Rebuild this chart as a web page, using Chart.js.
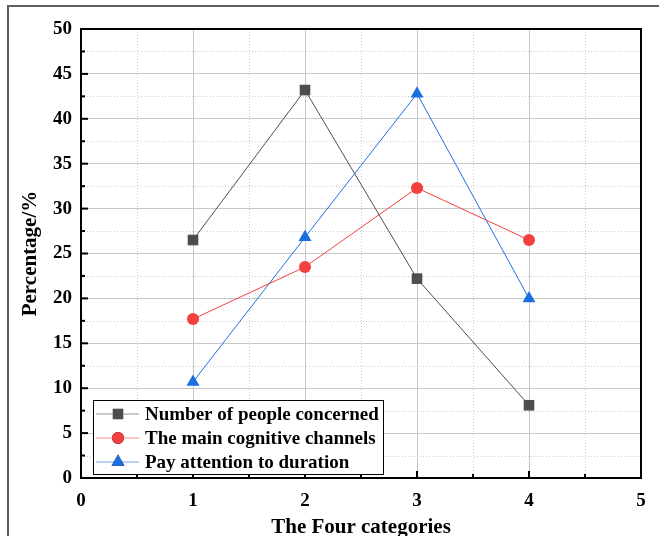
<!DOCTYPE html>
<html>
<head>
<meta charset="utf-8">
<script src="https://cdn.jsdelivr.net/npm/chart.js@4.4.1/dist/chart.umd.min.js"></script>
<style>
  html, body { margin: 0; padding: 0; background: #fff; }
  #wrap { position: relative; width: 659px; height: 536px; }
  #frame { position: absolute; left: 7px; top: 5px; right: -4px; bottom: -4px; border-top: 2px solid #5e5e5e; border-left: 2px solid #5e5e5e; pointer-events: none; }
  canvas { position: absolute; left: 0; top: 0; }
</style>
</head>
<body>
<div id="wrap">
  <canvas id="chart" width="659" height="536"></canvas>
  <div id="frame"></div>
</div>
<script>
// --- data ---
const categories = [1, 2, 3, 4];
const peopleConcerned = [26.5, 43.2, 22.2, 8.1];
const cognitiveChannels = [17.7, 23.5, 32.3, 26.5];
const attentionDuration = [10.7, 26.8, 42.8, 20.0];
const seriesNames = ['Number of people concerned', 'The main cognitive channels', 'Pay attention to duration'];
const xTickValues = [0, 1, 2, 3, 4, 5];
const yTickValues = [0, 5, 10, 15, 20, 25, 30, 35, 40, 45, 50];
const xMinorValues = [0.5, 1.5, 2.5, 3.5, 4.5];
const yMinorValues = [2.5, 7.5, 12.5, 17.5, 22.5, 27.5, 32.5, 37.5, 42.5, 47.5];

const serif = "'Liberation Serif', 'Times New Roman', serif";
const colors = { black: '#4d4d4d', red: '#f2403f', blue: '#1c6fe0' };

const toPoints = vals => categories.map((c, i) => ({ x: c, y: vals[i] }));

// minor dotted grid, inward ticks, frame and the boxed legend
const originStyle = {
    id: 'originStyle',
    beforeDatasetsDraw(chart) {
        const { ctx, chartArea: a, scales: { x, y } } = chart;
        ctx.save();
        ctx.strokeStyle = '#cdcdcd';
        ctx.lineWidth = 1;
        ctx.setLineDash([1, 2]);
        xMinorValues.forEach(v => {
            const px = Math.round(x.getPixelForValue(v)) + 0.5;
            ctx.beginPath(); ctx.moveTo(px, a.top); ctx.lineTo(px, a.bottom); ctx.stroke();
        });
        yMinorValues.forEach(v => {
            const py = Math.round(y.getPixelForValue(v)) + 0.5;
            ctx.beginPath(); ctx.moveTo(a.left, py); ctx.lineTo(a.right, py); ctx.stroke();
        });
        ctx.restore();
    },
    afterDraw(chart) {
        const { ctx, chartArea: a, scales: { x, y } } = chart;
        ctx.save();
        // inward ticks
        ctx.strokeStyle = '#000';
        ctx.lineWidth = 2;
        xTickValues.concat(xMinorValues).forEach(v => {
            const px = x.getPixelForValue(v);
            const len = Number.isInteger(v) ? 7 : 4;
            ctx.beginPath(); ctx.moveTo(px, a.bottom); ctx.lineTo(px, a.bottom - len); ctx.stroke();
        });
        yTickValues.concat(yMinorValues).forEach(v => {
            const py = y.getPixelForValue(v);
            const len = v % 5 === 0 ? 7 : 4;
            ctx.beginPath(); ctx.moveTo(a.left, py); ctx.lineTo(a.left + len, py); ctx.stroke();
        });
        // frame
        ctx.strokeStyle = '#000';
        ctx.lineWidth = 2;
        ctx.strokeRect(a.left, a.top, a.right - a.left, a.bottom - a.top);

        // legend
        const box = { left: 93, top: 400, width: 290, height: 74 };
        ctx.fillStyle = '#fff';
        ctx.fillRect(box.left, box.top, box.width, box.height);
        ctx.lineWidth = 1;
        ctx.strokeStyle = '#000';
        ctx.strokeRect(box.left + 0.5, box.top + 0.5, box.width, box.height);
        ctx.font = 'bold 19px ' + serif;
        ctx.textBaseline = 'middle';
        chart.data.datasets.forEach((ds, i) => {
            const rowY = box.top + 14 + i * 24;
            ctx.strokeStyle = ds.borderColor;
            ctx.globalAlpha = 0.6;
            ctx.lineWidth = 1;
            ctx.beginPath(); ctx.moveTo(box.left + 3, rowY); ctx.lineTo(box.left + 46, rowY); ctx.stroke();
            ctx.globalAlpha = 1;
            Chart.helpers.drawPoint(ctx, {
                pointStyle: ds.pointStyle, radius: ds.pointRadius, borderWidth: 0, rotation: 0
            }, box.left + 25, rowY);
            ctx.fillStyle = ds.pointBackgroundColor;
            ctx.fill();
            ctx.fillStyle = '#000';
            ctx.fillText(ds.label, box.left + 52, rowY + 1);
        });
        ctx.restore();
    }
};

new Chart(document.getElementById('chart'), {
    type: 'line',
    data: {
        datasets: [
            {
                label: seriesNames[0], data: toPoints(peopleConcerned),
                borderColor: colors.black, backgroundColor: colors.black, pointBackgroundColor: colors.black,
                pointStyle: 'rect', pointRadius: 7.5, pointBorderWidth: 0, borderWidth: 1
            },
            {
                label: seriesNames[1], data: toPoints(cognitiveChannels),
                borderColor: colors.red, backgroundColor: colors.red, pointBackgroundColor: colors.red,
                pointStyle: 'circle', pointRadius: 6, pointBorderWidth: 0, borderWidth: 1
            },
            {
                label: seriesNames[2], data: toPoints(attentionDuration),
                borderColor: colors.blue, backgroundColor: colors.blue, pointBackgroundColor: colors.blue,
                pointStyle: 'triangle', pointRadius: 7.5, pointBorderWidth: 0, borderWidth: 1
            }
        ]
    },
    options: {
        responsive: false,
        animation: false,
        layout: { padding: { top: 29, right: 18, left: 0, bottom: 0 } },
        plugins: { legend: { display: false }, tooltip: { enabled: false } },
        scales: {
            x: {
                type: 'linear', min: 0, max: 5,
                afterBuildTicks: s => { s.ticks = xTickValues.map(v => ({ value: v })); },
                afterFit: s => { s.height = 58; },
                grid: { color: '#c8c8c8', lineWidth: 1, drawTicks: false },
                border: { display: false },
                ticks: { color: '#000', padding: 12, font: { family: serif, size: 19, weight: 'bold' } },
                title: { display: true, text: 'The Four categories', color: '#000', padding: { top: 0, bottom: -4 },
                         font: { family: serif, size: 21, weight: 'bold' } }
            },
            y: {
                type: 'linear', min: 0, max: 50,
                afterBuildTicks: s => { s.ticks = yTickValues.map(v => ({ value: v })); },
                afterFit: s => { s.width = 81; },
                grid: { color: '#c8c8c8', lineWidth: 1, drawTicks: false },
                border: { display: false },
                ticks: { color: '#000', padding: 9, font: { family: serif, size: 19, weight: 'bold' } },
                title: { display: true, text: 'Percentage/%', color: '#000', padding: { top: 18 },
                         font: { family: serif, size: 21, weight: 'bold' } }
            }
        }
    },
    plugins: [originStyle]
});
</script>
</body>
</html>
